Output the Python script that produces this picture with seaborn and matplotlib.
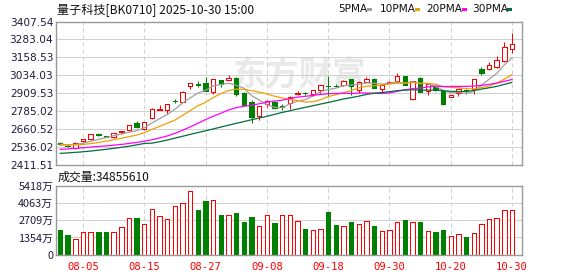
import matplotlib
matplotlib.use("Agg")
import matplotlib.pyplot as plt
import seaborn as sns
import pandas as pd
from matplotlib.patches import Rectangle

# ---------------- data ----------------
dates = ["07-31", "08-01", "08-04", "08-05", "08-06", "08-07", "08-08", "08-11", "08-12", "08-13",
         "08-14", "08-15", "08-18", "08-19", "08-20", "08-21", "08-22", "08-25", "08-26", "08-27",
         "08-28", "08-29", "09-01", "09-02", "09-03", "09-04", "09-05", "09-08", "09-09", "09-10",
         "09-11", "09-12", "09-15", "09-16", "09-17", "09-18", "09-19", "09-22", "09-23", "09-24",
         "09-25", "09-26", "09-29", "09-30", "10-09", "10-10", "10-13", "10-14", "10-15", "10-16",
         "10-17", "10-20", "10-21", "10-22", "10-23", "10-24", "10-27", "10-28", "10-29", "10-30"]

opens = [2560, 2542, 2528, 2580, 2588, 2625, 2610, 2603, 2640, 2655,
         2705, 2660, 2735, 2795, 2790, 2858, 2851, 2960, 2975, 2983,
         2920, 3001, 3003, 3017, 2913, 2850, 2752, 2835, 2850, 2818,
         2840, 2905, 2912, 2905, 2932, 2962, 2960, 2966, 3006, 2932,
         2987, 3006, 2937, 2983, 2992, 3027, 2867, 3017, 2927, 2955,
         2927, 2885, 2908, 2935, 2938, 3076, 3076, 3094, 3135, 3217]
highs = [2567, 2548, 2568, 2590, 2627, 2632, 2612, 2636, 2647, 2690,
         2718, 2708, 2804, 2827, 2834, 2868, 2922, 2978, 2993, 3024,
         3008, 3003, 3036, 3019, 2918, 2862, 2822, 2860, 2852, 2834,
         2890, 2925, 2918, 2933, 2968, 3027, 2975, 2998, 3010, 2993,
         3024, 3015, 2968, 2995, 3049, 3030, 2997, 3022, 2975, 2958,
         2930, 2899, 2940, 2940, 3010, 3090, 3129, 3170, 3268, 3330]
lows = [2550, 2532, 2522, 2568, 2585, 2612, 2602, 2600, 2628, 2646,
        2668, 2655, 2733, 2793, 2768, 2838, 2849, 2938, 2950, 2925,
        2902, 2955, 2998, 2892, 2820, 2704, 2723, 2815, 2800, 2795,
        2800, 2900, 2900, 2892, 2913, 2880, 2950, 2960, 2900, 2912,
        2984, 2944, 2917, 2980, 2988, 2965, 2865, 2915, 2897, 2925,
        2830, 2880, 2893, 2905, 2904, 3036, 3073, 3083, 3130, 3187]
closes = [2556, 2540, 2566, 2588, 2625, 2620, 2606, 2632, 2645, 2688,
          2672, 2706, 2797, 2802, 2832, 2853, 2920, 2977, 2970, 2928,
          3006, 2971, 3018, 2902, 2828, 2746, 2820, 2857, 2804, 2814,
          2885, 2912, 2908, 2930, 2965, 2960, 2957, 2996, 2957, 2990,
          3005, 2946, 2965, 2990, 3027, 2967, 2994, 2920, 2971, 2935,
          2834, 2897, 2938, 2930, 3008, 3050, 3106, 3140, 3229, 3252]

# volume in 万 (10k)
volumes = [1937, 1544, 1204, 1780, 1780, 1780, 1780, 1780, 2146, 2853,
           2853, 2408, 3559, 3010, 2774, 3795, 4030, 4972, 3507, 4213,
           4292, 3114, 3114, 3271, 2565, 2957, 2251, 3114, 2486, 3114,
           3114, 2643, 2015, 1937, 2015, 3350, 2329, 2251, 2565, 2408,
           2643, 2251, 1858, 1937, 2565, 2722, 2565, 2565, 1858, 1780,
           1937, 1466, 1623, 1387, 1701, 2408, 2800, 2879, 3507, 3507]
vol_up = [0, 0, 1, 1, 1, 0, 0, 1, 1, 1,
          0, 1, 1, 1, 1, 1, 1, 1, 0, 0,
          1, 0, 1, 0, 0, 0, 1, 1, 0, 1,
          1, 1, 0, 1, 1, 0, 0, 1, 0, 1,
          1, 0, 1, 1, 1, 0, 1, 0, 1, 0,
          0, 1, 1, 0, 1, 1, 1, 1, 1, 1]

ma5 = [2554, 2551, 2553, 2561, 2575, 2588, 2601, 2614, 2626, 2638,
       2649, 2669, 2702, 2733, 2762, 2798, 2841, 2877, 2910, 2930,
       2960, 2970, 2979, 2965, 2945, 2893, 2863, 2831, 2811, 2808,
       2836, 2854, 2865, 2890, 2920, 2935, 2944, 2962, 2967, 2972,
       2981, 2979, 2973, 2979, 2987, 2979, 2989, 2980, 2976, 2957,
       2931, 2911, 2915, 2907, 2921, 2965, 3006, 3047, 3107, 3155]
ma10 = [2548, 2549, 2550, 2553, 2559, 2567, 2576, 2585, 2596, 2607,
        2618, 2635, 2658, 2679, 2700, 2723, 2755, 2789, 2822, 2846,
        2879, 2906, 2928, 2938, 2937, 2927, 2917, 2905, 2888, 2877,
        2865, 2859, 2848, 2850, 2864, 2886, 2899, 2913, 2928, 2946,
        2958, 2961, 2967, 2973, 2979, 2980, 2984, 2976, 2978, 2972,
        2955, 2950, 2947, 2941, 2939, 2948, 2959, 2981, 3007, 3038]
ma20 = [2519, 2522, 2526, 2530, 2535, 2539, 2543, 2548, 2553, 2560,
        2567, 2575, 2586, 2598, 2612, 2630, 2652, 2675, 2700, 2726,
        2749, 2770, 2793, 2809, 2819, 2825, 2836, 2847, 2855, 2861,
        2872, 2882, 2888, 2894, 2901, 2906, 2908, 2909, 2908, 2911,
        2911, 2910, 2907, 2912, 2922, 2933, 2941, 2945, 2953, 2959,
        2956, 2956, 2957, 2957, 2959, 2964, 2971, 2979, 2992, 3005]
ma30 = [2491, 2494, 2498, 2502, 2507, 2513, 2519, 2526, 2533, 2541,
        2550, 2560, 2562, 2572, 2584, 2597, 2610, 2623, 2636, 2648,
        2661, 2674, 2687, 2700, 2712, 2725, 2737, 2749, 2762, 2776,
        2787, 2800, 2811, 2822, 2834, 2845, 2857, 2869, 2879, 2889,
        2901, 2909, 2914, 2920, 2927, 2931, 2933, 2931, 2931, 2932,
        2926, 2923, 2921, 2922, 2928, 2938, 2947, 2957, 2971, 2985]

price_ticks = [2411.51, 2536.02, 2660.52, 2785.02, 2909.53, 3034.03, 3158.53, 3283.04, 3407.54]
vol_ticks = [0, 1354, 2709, 4063, 5418]
vol_tick_labels = ["0", "1354万", "2709万", "4063万", "5418万"]
date_labels = ["08-05", "08-15", "08-27", "09-08", "09-18", "09-30", "10-20", "10-30"]
ma_names = ["5PMA", "10PMA", "20PMA", "30PMA"]
ma_colors = ["#a0a0a0", "#f0a000", "#ff00ff", "#006f3c"]
title_text = "量子科技[BK0710] 2025-10-30 15:00"
vol_title = "成交量:34855610"

# ---------------- style ----------------
sns.set_theme(style="white")
plt.rcParams["font.family"] = ["Noto Sans CJK SC", "DejaVu Sans"]

RED = "#ff0000"
GREEN = "#008000"
GRID = "#d0d0d0"
SPINE = "#999999"
W, H = 578, 276
LW = 0.72  # one pixel at 100 dpi

fig = plt.figure(figsize=(W / 100, H / 100), dpi=100)
fig.patch.set_facecolor("white")
ax = fig.add_axes([56 / W, 1 - 164.8 / H, 466 / W, 143.2 / H])
axv = fig.add_axes([56 / W, 1 - 254.7 / H, 466 / W, 69.0 / H])

n = len(dates)
idx = list(range(n))
xmin, xmax = -0.52, 60.3
xt = [dates.index(d) for d in date_labels]
BW = 0.58

# watermark
ax.text(0.52, 0.62, "东方财富", transform=ax.transAxes, ha="center", va="center",
        fontsize=24, color="#e9e9e9", fontweight="bold", style="italic", zorder=0)

# candles
for i in idx:
    o, h, l, c = opens[i], highs[i], lows[i], closes[i]
    if c >= o:
        ax.vlines(i, c, h, color=RED, lw=LW, zorder=2)
        ax.vlines(i, l, o, color=RED, lw=LW, zorder=2)
        ax.add_patch(Rectangle((i - BW / 2, o), BW, max(c - o, 1.5), facecolor="white",
                               edgecolor=RED, lw=LW, zorder=2, antialiased=False))
    else:
        ax.vlines(i, l, h, color=GREEN, lw=LW, zorder=2)
        ax.add_patch(Rectangle((i - BW / 2, c), BW, max(o - c, 1.5), facecolor=GREEN,
                               edgecolor=GREEN, lw=LW, zorder=2, antialiased=False))

# moving averages via seaborn
ma_df = pd.DataFrame({
    "i": idx * 4,
    "v": ma5 + ma10 + ma20 + ma30,
    "s": [m for m in ma_names for _ in idx],
})
sns.lineplot(data=ma_df, x="i", y="v", hue="s", palette=dict(zip(ma_names, ma_colors)),
             linewidth=0.9, legend=False, ax=ax, zorder=3)

ax.set_xlim(xmin, xmax)
ax.set_ylim(price_ticks[0], price_ticks[-1])
ax.set_yticks(price_ticks)
ax.set_yticklabels([f"{t:.2f}" for t in price_ticks], fontsize=7.6, color="#1c1c3c",
                   family=["DejaVu Sans"])
ax.set_xticks(xt)
ax.set_xticklabels([])
ax.set_xlabel("")
ax.set_ylabel("")
ax.grid(False)
for y in price_ticks:
    ax.axhline(y, color=GRID, lw=LW, zorder=1)
for x in xt:
    ax.axvline(x, color=GRID, lw=LW, ls=(0, (4, 3)), zorder=1)
ax.tick_params(length=0, pad=2)

# volume via seaborn: falling days filled green, rising days hollow red
vol_df = pd.DataFrame({"i": idx, "vol": volumes, "up": vol_up})
down_df = vol_df[vol_df["up"] == 0]
up_df = vol_df[vol_df["up"] == 1]
sns.barplot(data=down_df, x="i", y="vol", native_scale=True, width=BW, color=GREEN,
            saturation=1, ax=axv, zorder=2)
n_down = len(axv.patches)
sns.barplot(data=up_df, x="i", y="vol", native_scale=True, width=BW, color=RED,
            saturation=1, ax=axv, zorder=2)
for k, p in enumerate(axv.patches):
    cx = p.get_x() + p.get_width() / 2
    p.set_x(cx - BW / 2)
    p.set_width(BW)
    p.set_linewidth(LW)
    p.set_antialiased(False)
    if k < n_down:
        p.set_facecolor(GREEN)
        p.set_edgecolor(GREEN)
    else:
        p.set_facecolor("white")
        p.set_edgecolor(RED)

axv.set_xlim(xmin, xmax)
axv.set_ylim(0, 5418)
axv.set_yticks(vol_ticks)
axv.set_yticklabels(vol_tick_labels, fontsize=7.8, color="#1c1c3c")
axv.set_xticks(xt)
axv.set_xticklabels(date_labels, fontsize=7.6, color=RED, family=["DejaVu Sans Mono"])
axv.set_xlabel("")
axv.set_ylabel("")
axv.grid(False)
for y in vol_ticks:
    axv.axhline(y, color=GRID, lw=LW, zorder=1)
for x in xt:
    axv.axvline(x, color=GRID, lw=LW, ls=(0, (4, 3)), zorder=1)
axv.tick_params(axis="x", length=0, pad=5)
axv.tick_params(axis="y", length=0, pad=2)

for a in (ax, axv):
    for s in a.spines.values():
        s.set_color(SPINE)
        s.set_linewidth(1)
        s.set_visible(True)

# header texts
fig.text(57 / W, 1 - 9.5 / H, title_text, fontsize=8.7, ha="left", va="center", color="#111111")
fig.text(58 / W, 1 - 177 / H, vol_title, fontsize=8.6, ha="left", va="center", color="#111111")

lx = [338, 380, 426, 472]
sx = [367, 415, 462, 507]
for name, col, x0, x1 in zip(ma_names, ma_colors, lx, sx):
    fig.text(x0 / W, 1 - 9.5 / H, name, fontsize=7.6, ha="left", va="center", color="#111111",
             family=["DejaVu Sans"])
    fig.patches.append(Rectangle((x1 / W, 1 - 11 / H), 5 / W, 3.5 / H, transform=fig.transFigure,
                                 facecolor=col, edgecolor="none", figure=fig))

fig.savefig("out.png", dpi=100)
